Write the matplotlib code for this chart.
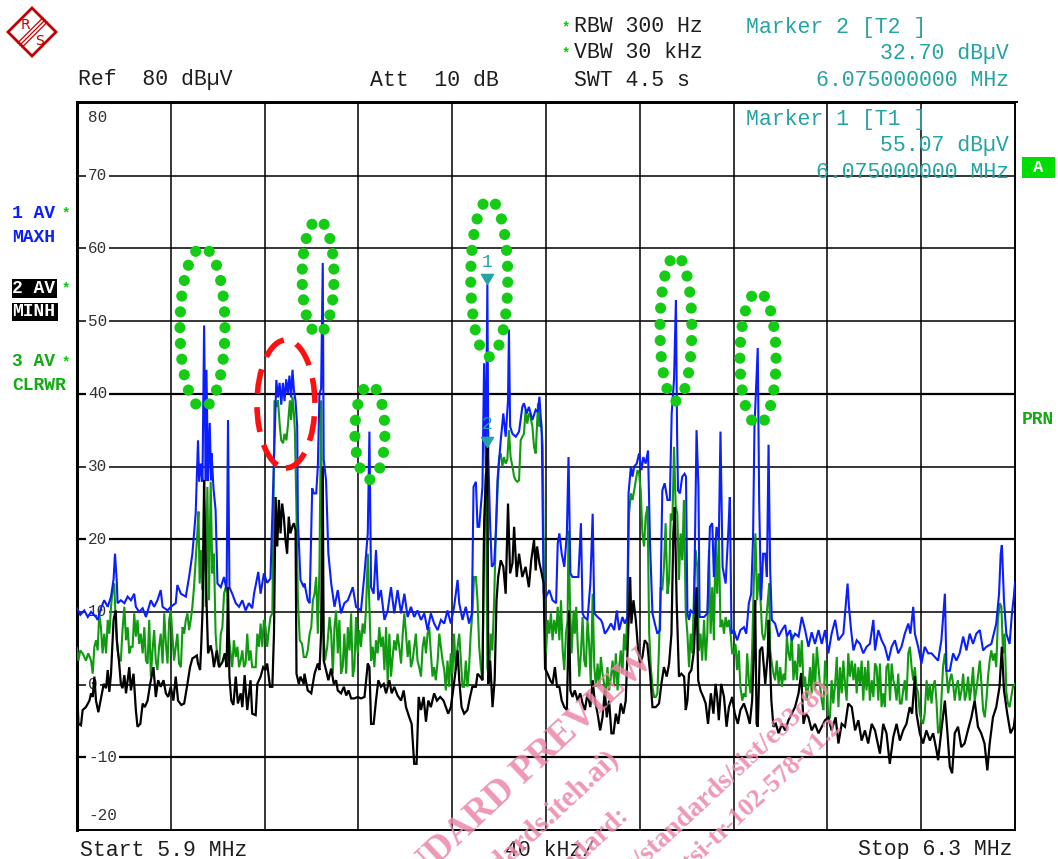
import matplotlib
matplotlib.use("Agg")
import matplotlib.pyplot as plt
import numpy as np
from matplotlib.patches import Rectangle, Polygon, Ellipse
from matplotlib.path import Path

W, H, DPI = 1058, 859, 100

# ---------------- data ----------------
START_MHZ, STOP_MHZ = 5.9, 6.3
REF_LEVEL, BOTTOM_LEVEL = 80, -20
level_ticks = [80, 70, 60, 50, 40, 30, 20, 10, 0, -10, -20]
freq_grid_khz = [40, 80, 120, 160, 200, 240, 280, 320, 360]

# Trace 1: AV MAXH (blue)  -- (offset kHz from start, dBuV)
maxh = [(0, 10.5), (1.4, 9.6), (3.1, 10.2), (4.6, 9.3), (6.0, 10.0), (8.1, 9.3), (8.8, 8.9), (10.2, 10.5),
        (11.6, 11.6), (13.1, 10.7), (14.5, 12.1), (15.6, 14.5), (16.2, 18.0), (17.0, 14.0), (17.3, 11.2),
        (18.7, 11.6), (20.2, 11.2), (21.6, 12.1), (23.0, 11.6), (24.4, 12.5), (25.1, 10.7), (26.5, 10.0),
        (28.0, 10.5), (29.4, 9.3), (31.5, 11.6), (32.9, 10.7), (34.3, 11.6), (35.7, 13.0), (36.5, 10.7),
        (38.6, 10.2), (40.0, 10.7), (42.1, 11.2), (42.8, 13.7), (44.3, 12.5), (46.4, 12.1), (47.8, 14.8),
        (49.2, 18.0), (50.6, 23.5), (51.6, 33.6), (52.1, 27.9), (52.8, 30.4), (53.5, 27.9), (54.2, 49.4),
        (54.9, 28.0), (55.2, 43.3), (55.9, 28.0), (56.6, 36.0), (57.2, 28.1), (57.4, 31.8), (58.2, 27.0),
        (59.1, 24.0), (59.9, 13.9), (61.3, 13.4), (62.7, 14.8), (63.8, 13.0), (64.4, 36.4), (65.0, 13.4),
        (66.2, 12.5), (67.7, 11.2), (69.1, 10.7), (70.5, 11.6), (71.9, 10.2), (73.3, 11.2), (74.7, 10.5),
        (75.5, 12.5), (77.3, 15.5), (78.3, 12.5), (79.7, 15.3), (81.1, 14.0), (82.5, 14.6), (84.0, 30.9),
        (85.0, 41.9), (85.7, 39.5), (86.4, 41.5), (87.1, 38.5), (87.8, 41.5), (88.5, 39.0), (89.2, 42.0),
        (89.9, 40.0), (90.6, 42.5), (91.3, 39.5), (91.9, 43.3), (92.5, 40.5), (93.2, 39.0), (93.9, 35.5),
        (94.2, 22.6), (95.3, 14.4), (96.7, 13.4),
        (97.0, 13.9), (98.4, 11.6), (99.2, 11.2), (100.3, 27.0), (101.0, 26.3), (102.0, 26.3), (102.7, 30.0),
        (103.4, 40.0), (104.1, 40.7), (104.8, 58.0), (105.2, 31.0), (106.2, 28.1), (107.2, 18.0), (108.4, 13.9),
        (109.8, 10.7), (111.2, 13.0), (112.6, 9.8), (114.0, 11.2), (115.5, 11.6), (117.6, 13.4), (119.0, 10.7),
        (121.1, 10.2), (122.6, 15.3), (124.0, 20.8), (124.7, 34.8), (125.4, 13.4), (126.5, 12.5), (127.5, 18.5),
        (128.5, 11.6), (129.6, 13.0), (131.1, 8.9), (132.5, 10.2), (133.9, 13.4), (135.3, 9.8), (136.7, 13.0),
        (138.2, 9.8), (139.6, 12.5), (141.0, 9.3), (142.4, 10.7), (143.8, 9.3), (145.2, 10.2), (146.7, 8.9),
        (148.1, 9.8), (149.5, 7.5), (150.9, 9.8), (152.3, 8.4), (153.8, 7.5), (155.2, 8.9), (156.6, 8.4),
        (158.0, 10.2), (159.4, 8.4), (160.8, 10.7), (162.3, 14.4), (163.0, 11.2), (164.4, 8.9), (165.8, 10.7),
        (167.2, 8.4), (168.4, 9.8), (169.1, 27.2), (170.1, 27.9), (170.8, 21.7), (171.5, 21.7), (172.9, 27.2),
        (173.6, 44.2), (174.3, 30.0), (175.0, 55.07), (175.4, 31.3), (176.2, 21.7), (176.9, 16.2), (177.9, 16.7),
        (178.6, 20.8), (179.3, 28.1), (180.7, 33.6), (181.8, 37.3), (182.8, 34.1), (183.8, 39.1), (184.2, 48.8),
        (184.7, 35.5), (185.7, 34.5), (187.1, 34.1), (188.5, 34.8), (189.9, 38.2), (190.6, 38.7), (191.8, 37.3),
        (192.7, 38.2), (194.2, 36.4), (195.6, 37.8),
        (196.5, 37.5), (197.2, 39.6), (198.2, 34.5), (199.0, 12.5), (200.0, 12.1), (201.4, 13.0), (202.8, 11.6),
        (204.3, 11.2), (205.0, 19.4), (205.7, 20.8), (206.7, 18.0), (207.8, 16.2), (208.9, 20.8), (209.6, 31.3),
        (210.4, 15.3), (211.3, 14.8), (212.8, 14.8), (213.8, 14.8), (214.9, 22.2), (215.6, 9.8), (216.3, 9.3),
        (217.7, 8.9), (218.9, 13.9), (219.9, 23.5), (220.6, 9.8), (222.0, 9.3), (223.4, 8.9), (224.1, 8.4),
        (225.1, 7.0), (226.2, 7.5), (227.7, 8.4), (229.1, 7.5), (230.2, 10.2), (231.2, 7.5), (232.6, 9.3),
        (233.6, 8.4), (234.7, 9.3), (235.2, 26.3), (236.2, 30.0), (236.9, 28.6), (237.6, 30.0), (238.7, 30.4),
        (239.7, 31.8), (240.7, 29.5), (241.5, 31.3), (242.5, 30.4), (243.5, 32.2), (244.4, 19.0), (245.4, 9.8),
        (246.4, 8.4), (247.5, 7.0), (248.6, 7.5), (249.6, 26.7), (250.6, 27.7), (251.8, 25.4), (252.8, 25.4),
        (253.6, 37.3), (254.6, 42.0), (255.4, 52.9), (255.9, 34.5), (256.3, 26.7), (257.1, 26.3), (258.1, 28.6),
        (259.1, 29.0), (259.7, 28.6), (260.3, 9.8), (261.0, 8.9), (261.7, 10.2), (263.1, 9.8), (264.2, 35.0),
        (265.0, 27.2), (265.5, 9.3), (267.4, 9.3), (268.8, 9.8), (269.9, 21.7), (270.9, 22.2), (271.6, 14.8),
        (272.7, 21.7), (273.7, 19.9), (274.4, 34.8), (275.3, 16.2), (276.6, 13.9), (277.7, 20.8), (278.4, 25.8),
        (279.1, 7.0), (280.1, 7.5), (281.5, 6.1), (282.9, 7.5), (284.4, 7.9), (285.4, 7.0), (286.5, 11.2),
        (287.5, 12.5), (288.3, 20.3), (288.9, 35.5), (290.3, 46.3), (290.9, 25.4), (291.7, 11.6), (292.6, 18.0),
        (293.5, 18.0), (294.2, 14.8), (294.9, 33.0), (295.6, 15.7), (296.3, 8.9), (297.7, 8.4), (299.2, 6.6),
        (300.6, 7.5), (302.0, 8.2), (302.7, 6.6), (304.1, 7.5), (304.8, 6.1), (306.2, 7.0), (307.7, 6.6),
        (309.1, 9.3), (310.5, 7.5), (311.9, 5.2), (313.3, 7.2), (314.7, 5.6), (316.2, 7.5), (317.6, 5.6),
        (319.0, 7.5), (320.4, 4.3), (321.8, 7.0), (323.3, 8.9), (324.7, 6.1), (326.8, 7.0), (328.6, 13.9),
        (329.2, 10.7), (330.1, 7.5), (331.1, 4.7), (332.5, 6.1), (333.9, 5.6), (335.3, 4.3), (336.7, 5.2),
        (338.1, 5.6), (339.6, 8.9), (340.3, 4.7), (341.7, 7.5), (343.1, 6.1), (344.5, 5.2), (346.0, 3.3),
        (347.4, 5.2), (348.8, 6.1), (350.2, 4.3), (351.6, 5.2), (353.0, 7.0), (354.5, 8.4), (355.4, 7.0),
        (356.6, 10.7), (357.3, 7.0), (358.7, 5.2), (360.1, 2.9), (361.5, 5.2), (363.0, 4.3), (364.4, 4.3),
        (365.8, 3.8), (367.2, 3.3), (368.6, 6.1), (370.1, 12.5), (370.8, 1.9), (372.2, 1.9), (373.6, 4.3),
        (375.0, 3.3), (376.4, 4.3), (377.9, 6.6), (379.3, 4.7), (380.7, 7.0), (382.1, 5.6), (383.5, 7.0),
        (385.0, 7.5), (386.4, 4.7), (387.8, 5.2), (389.9, 5.6), (392.0, 8.4), (393.2, 12.5), (393.9, 18.0),
        (394.4, 19.2), (395.3, 11.6), (396.3, 7.0), (397.7, 5.6), (398.7, 9.8), (399.5, 12.1), (400.0, 14.0)]

# Trace 2: AV MINH (black)
minh = [(0, 0.1), (0.6, -5.4), (1.7, -5.6), (2.4, -3.5), (3.8, -3.1), (5.3, -2.2), (6.0, -1.2), (6.7, -1.7),
        (7.4, 1.1), (8.1, -2.2), (9.1, -3.8), (10.2, -1.9), (11.4, 0.1), (12.4, -0.5), (13.1, 2.0), (13.8, -1.0),
        (14.5, 1.5), (15.6, 8.9), (16.5, 10.2), (17.0, 6.1), (18.0, 2.9), (18.7, 0.1), (19.4, -0.5), (20.2, 1.3),
        (20.9, -1.2), (22.3, 2.4), (23.0, -0.8), (24.1, 1.5), (25.1, -3.5), (25.8, -5.8), (27.0, -5.4),
        (28.0, -2.6), (28.9, -3.1), (30.1, -2.2), (31.2, 0.1), (32.6, 2.4), (33.6, -1.7), (34.6, 0.6),
        (35.7, -0.3), (36.9, 0.6), (37.9, -1.2), (38.9, -1.7), (40.0, -0.3), (41.1, -2.2), (42.1, 1.1),
        (43.1, -2.2), (44.5, -2.8), (45.7, -2.6), (47.1, 0.1), (48.2, 2.4), (49.2, 3.6), (50.2, 3.8), (51.1, 4.0),
        (51.6, 2.9), (52.5, 2.0), (53.0, 5.6), (53.6, 10.7), (54.2, 28.1), (54.6, 20.8), (55.3, 10.7),
        (55.9, 4.3), (57.0, 5.4), (57.7, 4.3), (58.4, 2.4), (59.6, 4.7), (60.6, 2.4), (62.0, 3.1), (63.0, 4.3),
        (63.8, 2.4), (64.4, 13.4), (65.0, 1.1), (65.8, -2.2), (66.7, -2.8), (67.7, 1.1), (68.6, -2.6),
        (69.8, -1.2), (70.5, -3.1), (71.5, 1.3), (72.6, -3.5), (74.0, 0.6), (74.7, -4.0), (76.2, -4.2),
        (76.9, 0.1), (78.3, 1.1), (79.4, 2.4), (80.4, 2.0), (81.1, 2.9), (82.3, -0.3), (83.3, -0.3), (84.0, 7.0),
        (84.7, 25.8), (85.4, 19.0), (86.1, 25.4), (86.8, 20.8), (87.5, 24.9), (88.2, 23.1), (88.9, 19.9),
        (89.6, 18.0), (90.3, 23.1), (91.0, 20.8), (91.8, 21.7), (92.5, 22.2), (93.2, 21.2), (93.6, 1.5),
        (94.6, 0.1), (95.3, 1.1), (96.7, 0.1),
        (97.0, 1.5), (98.4, -0.8), (99.9, -1.2), (101.3, 1.5), (102.7, 2.9), (103.4, 2.0), (104.1, 7.0),
        (104.8, 30.0), (105.2, 3.3), (106.2, 2.0), (107.2, 0.6), (108.4, 2.2), (109.5, 0.1), (110.5, 0.6),
        (111.2, -0.8), (112.6, -1.2), (113.8, -0.3), (114.8, -1.5), (115.8, -0.8), (116.9, -1.9), (118.3, -1.9),
        (119.7, -1.7), (121.1, -1.9), (122.6, -1.7), (124.0, 2.9), (124.7, 2.4), (125.4, -5.4), (126.5, -5.4),
        (127.5, -2.2), (128.5, 0.6), (129.6, -0.3), (130.8, 0.1), (131.8, -1.2), (133.2, 0.6), (134.2, -1.2),
        (135.3, -0.3), (136.7, -1.5), (138.2, -2.2), (139.3, -0.8), (140.3, -3.1), (141.7, -4.5), (142.7, -5.4),
        (143.8, -10.9), (144.8, -10.9), (145.7, -1.7), (146.7, -3.5), (147.8, -1.7), (148.8, -5.1),
        (149.8, -2.2), (150.9, -3.1), (152.3, -1.2), (153.5, -2.2), (154.9, -1.7), (156.3, -2.2), (157.3, -3.1),
        (158.3, -4.0), (159.4, -3.1), (160.6, -0.3), (161.6, 2.4), (162.3, 4.7), (163.0, 0.6), (164.0, -3.1),
        (165.1, -4.0), (166.5, -3.5), (167.6, -1.7), (168.6, -0.3), (170.1, -0.3), (170.8, 1.5), (171.9, 1.1),
        (172.9, 0.6), (173.6, 21.7), (174.3, 28.0), (175.0, 32.7), (175.4, 0.1), (176.2, 3.3), (177.2, -3.1),
        (178.1, 0.6), (178.9, 11.6), (179.6, 14.8), (180.7, 17.1), (181.8, 16.2), (182.8, 12.5), (183.8, 24.9),
        (184.7, 15.3), (185.7, 16.7), (186.4, 21.7), (187.5, 14.8), (188.5, 18.0), (189.9, 14.8), (191.3, 16.2),
        (192.7, 13.4), (193.7, 17.1), (194.9, 19.9), (195.6, 15.7),
        (196.2, 19.0), (197.2, 16.7), (197.9, 15.7), (199.0, 13.9), (199.6, 2.2), (200.7, 1.5), (201.8, 0.6),
        (202.8, 0.1), (203.8, 2.4), (204.7, -0.3), (205.7, -0.3), (206.7, -2.2), (207.8, -3.1), (208.9, -3.5),
        (209.8, 10.2), (210.4, -0.8), (211.3, -1.7), (212.3, -0.8), (213.5, -2.2), (214.6, -1.2), (215.6, -2.6),
        (216.6, -3.5), (217.7, -1.2), (218.9, -3.1), (219.9, 0.6), (220.6, -1.7), (222.0, -4.0), (223.1, -6.3),
        (224.1, -4.5), (225.1, -0.8), (225.9, -4.5), (226.9, -2.2), (227.9, -6.7), (228.8, -6.7), (229.8, -4.0),
        (230.8, -5.4), (231.9, -2.6), (233.0, -4.0), (234.0, -2.2), (235.0, 6.6), (235.9, 14.8), (236.4, 8.4),
        (237.3, 11.6), (238.3, 8.9), (239.3, 4.7), (240.1, 2.9), (241.1, 3.8), (242.1, 6.1), (243.2, 5.6),
        (244.4, 1.5), (245.4, -3.1), (246.8, -3.1), (248.2, -2.6), (249.2, 0.1), (250.3, 2.4), (251.5, 1.1),
        (252.5, 2.9), (253.5, 7.0), (254.3, 20.8), (254.9, 24.4), (255.7, 11.6), (256.7, 1.1), (257.7, 1.5),
        (258.9, 1.1), (259.6, -3.5), (260.3, -2.2), (261.0, 1.5), (262.0, 2.0), (263.1, 4.7), (264.2, 13.4),
        (264.9, 0.6), (265.9, -0.8), (267.1, -1.7), (268.1, -2.6), (269.1, -5.4), (270.3, -1.2), (271.4, -4.0),
        (272.3, 0.1), (273.0, -1.7), (273.7, -4.9), (274.7, 0.1), (275.9, -1.7), (277.0, -5.8), (278.0, -3.1),
        (279.4, -1.7), (280.5, -4.0), (281.8, -5.4), (282.9, -3.5), (284.4, -2.6), (285.8, -4.0), (286.9, -5.4),
        (287.9, -2.2), (288.6, 4.3), (289.2, 11.6), (289.8, -5.4), (290.3, -5.8), (291.2, 4.7), (292.2, 5.2),
        (293.5, 0.1), (294.6, 4.3), (294.9, 8.9), (296.1, -2.2), (297.0, -5.8), (298.0, -5.4), (299.2, -6.7),
        (300.6, -5.4), (302.0, -6.3), (303.4, -4.9), (304.8, -4.0), (306.2, -3.1), (307.7, -1.2), (308.8, 1.6),
        (309.8, -5.4), (310.8, -4.0), (311.9, -4.5), (313.3, -6.3), (314.7, -5.4), (316.2, -6.7), (317.6, -5.8),
        (319.0, -4.9), (320.4, -4.5), (321.8, -6.3), (323.5, -4.5), (324.7, -8.1), (326.1, -5.4), (327.5, -5.8),
        (328.9, -2.6), (330.4, -3.1), (331.8, -6.3), (333.2, -4.9), (334.6, -7.7), (336.0, -6.3), (337.4, -8.1),
        (338.9, -5.4), (340.3, -6.3), (342.4, -9.5), (343.8, -5.4), (345.2, -6.7), (346.6, -10.9), (348.1, -7.2),
        (349.5, -5.4), (350.9, -7.7), (352.3, -6.3), (353.7, -5.4), (355.1, -3.1), (356.1, -4.0), (357.3, 1.2),
        (358.0, -4.0), (359.4, -6.7), (360.8, -8.1), (362.2, -6.3), (363.7, -7.7), (365.1, -6.7), (366.5, -9.0),
        (367.2, -10.4), (368.6, -6.3), (370.1, -2.2), (371.2, -6.7), (372.2, -11.3), (373.2, -12.2),
        (374.3, -6.7), (375.7, -5.8), (377.1, -8.6), (378.5, -8.1), (379.9, -6.3), (381.4, -4.5), (382.8, -2.2),
        (384.2, -5.8), (385.6, -6.7), (387.0, -8.1), (388.2, -11.8), (389.2, -8.1), (390.6, -4.5), (392.0, -3.1),
        (393.4, -0.3), (394.4, 5.2), (395.3, -0.8), (396.7, -4.0), (398.1, -6.7), (399.5, -5.8), (400.0, -4.5)]

# Trace 3: AV CLRWR (green)
clrwr = [(0, 5.0), (0.6, 3.3), (1.4, 4.7), (2.4, 4.3), (3.8, 3.3), (4.8, 4.3), (6.0, 3.3), (6.7, 1.5),
         (7.4, 5.2), (8.1, 6.1), (8.8, 4.7), (9.5, 9.8), (10.2, 7.9), (10.9, 4.3), (11.6, 7.0), (12.4, 4.3),
         (13.1, 8.9), (13.8, 7.0), (14.5, 10.7), (15.2, 13.0), (15.9, 13.9), (16.6, 7.9), (17.3, 4.7),
         (18.0, 3.3), (18.7, 3.3), (19.4, 7.5), (20.2, 10.7), (20.9, 6.1), (21.6, 7.9), (22.3, 4.3), (23.0, 5.2),
         (23.7, 5.2), (24.4, 9.8), (25.1, 6.6), (25.8, 8.9), (26.5, 5.6), (27.2, 7.0), (28.0, 4.3), (28.7, 7.9),
         (29.4, 3.3), (30.1, 2.9), (30.8, 8.9), (31.5, 1.1), (32.2, 4.7), (32.9, 7.5), (33.6, 3.3), (34.3, 2.0),
         (35.0, 5.2), (35.7, 7.0), (36.5, 2.9), (37.2, 9.8), (37.9, 5.6), (38.6, 2.9), (39.3, 8.9), (40.0, 10.2),
         (40.7, 6.6), (41.4, 3.3), (42.1, 5.2), (42.8, 7.0), (43.5, 2.9), (44.3, 2.4), (45.0, 7.9), (45.7, 7.0),
         (46.4, 8.9), (47.1, 9.8), (47.8, 7.5), (48.5, 8.9), (49.2, 10.7), (49.9, 13.4), (50.6, 17.1),
         (51.3, 20.8), (51.8, 23.8), (52.3, 13.9), (53.0, 18.5), (53.6, 13.0), (54.2, 25.4), (54.9, 10.7),
         (55.6, 27.2), (56.3, 11.6), (57.0, 27.9), (57.7, 15.3), (58.4, 18.0), (59.1, 7.0), (59.9, 3.3),
         (60.6, 2.4), (61.3, 7.0), (62.0, 7.9), (62.7, 12.5), (63.4, 13.4), (64.1, 12.5), (64.8, 6.6),
         (65.5, 4.3), (66.2, 2.4), (66.9, 6.1), (67.7, 3.8), (68.4, 5.2), (69.1, 2.4), (69.8, 3.3), (70.5, 4.7),
         (71.2, 2.4), (71.9, 2.9), (72.6, 7.0), (73.3, 3.3), (74.0, 4.7), (74.7, 2.4), (75.5, 2.4), (76.2, 2.4),
         (76.9, 7.0), (77.6, 5.2), (78.3, 8.4), (79.0, 5.2), (79.7, 8.9), (80.4, 7.9), (81.1, 5.2), (81.8, 7.5),
         (82.5, 9.3), (83.3, 9.8), (83.7, 20.8), (84.2, 39.1), (85.1, 38.2), (85.7, 39.1), (86.5, 35.5),
         (87.1, 33.6), (87.9, 33.2), (88.5, 34.5), (89.3, 33.6), (89.9, 35.5), (90.8, 39.1), (91.3, 36.4),
         (91.9, 39.6), (92.5, 37.3), (92.9, 35.0), (93.5, 25.4), (94.2, 11.6), (95.0, 6.1), (96.0, 5.6),
         (96.7, 3.8),
         (97.7, 3.8), (98.4, 4.7), (99.2, 7.0), (99.9, 7.9), (100.6, 11.6), (101.3, 12.5), (102.0, 14.8),
         (102.7, 7.0), (103.4, 16.2), (104.1, 39.1), (104.5, 20.8), (105.1, 7.0), (105.8, 3.3), (106.7, 5.2),
         (107.7, 9.3), (108.4, 7.0), (109.1, 1.5), (109.8, 7.9), (110.5, 10.2), (111.2, 4.3), (111.9, 8.9),
         (112.6, 1.5), (113.3, 2.4), (114.0, 7.0), (114.8, 1.5), (115.5, 7.9), (116.2, 4.7), (116.9, 9.8),
         (117.6, 1.1), (118.3, 2.4), (119.0, 9.3), (119.7, 4.3), (120.4, 7.5), (121.1, 5.2), (121.8, 8.4),
         (122.6, 7.0), (123.3, 10.7), (124.0, 18.0), (124.7, 10.7), (125.4, 3.3), (126.1, 5.2), (126.8, 2.4),
         (127.5, 6.1), (128.2, 4.3), (128.9, 7.9), (129.6, 5.2), (130.4, 6.6), (131.1, 2.0), (131.8, 7.9),
         (132.5, 0.1), (133.2, 7.0), (133.9, 1.1), (134.6, 3.8), (135.3, 6.1), (136.0, 4.7), (136.7, 7.0),
         (137.4, 5.2), (138.2, 2.9), (138.9, 7.0), (139.6, 9.8), (140.3, 7.0), (141.0, 3.8), (141.7, 6.1),
         (142.4, 2.4), (143.1, 3.3), (143.8, 5.2), (144.5, 7.0), (145.2, 3.3), (145.9, 2.4), (146.7, 1.1),
         (147.4, 5.2), (148.1, 6.6), (148.8, 4.3), (149.5, 7.0), (150.2, 7.9), (150.9, 4.3), (151.6, 1.1),
         (152.3, 2.4), (153.0, 0.6), (153.8, 3.3), (154.5, 7.0), (155.2, 5.2), (155.9, 3.3), (156.6, 2.0),
         (157.3, -0.8), (158.0, 3.3), (158.7, -0.3), (159.4, 4.3), (160.1, 1.5), (160.8, 7.0), (161.5, 2.0),
         (162.3, 5.2), (163.0, 7.0), (163.7, 3.3), (164.4, -0.3), (165.1, -0.3), (165.8, 3.3), (166.5, -0.3),
         (167.2, 2.4), (167.9, 7.0), (168.6, 9.8), (169.3, 14.8), (170.1, 14.8), (170.8, 11.6), (171.5, 5.2),
         (172.2, 2.4), (172.9, 0.6), (173.6, 21.2), (174.3, 29.0), (175.0, 2.4), (175.7, 0.6), (176.4, 7.0),
         (177.1, 4.7), (177.9, 11.6), (178.6, 20.8), (179.3, 26.3), (180.0, 31.3), (180.7, 31.8), (181.4, 30.0),
         (182.1, 31.3), (182.8, 30.4), (183.5, 30.9), (184.2, 35.0), (184.9, 31.3), (185.7, 30.0), (186.4, 28.6),
         (187.1, 28.1), (187.8, 27.9), (188.5, 28.1), (189.2, 33.6), (189.9, 34.1), (190.6, 34.5), (191.3, 37.8),
         (192.0, 35.9), (192.7, 37.3), (193.4, 36.8), (194.2, 35.5), (194.9, 32.7), (195.6, 31.8),
         (196.3, 36.8), (196.6, 38.7), (197.2, 35.5), (197.9, 36.4), (198.6, 32.7), (199.3, 9.8), (200.0, 4.3),
         (200.7, 8.9), (201.4, 7.0), (202.1, 9.8), (202.8, 6.1), (203.5, 8.9), (204.3, 7.0), (205.0, 10.7),
         (205.7, 6.1), (206.4, 11.6), (207.1, 4.7), (207.8, 2.0), (208.5, 7.0), (209.2, 8.9), (209.6, 21.2),
         (210.2, 11.6), (210.9, 4.3), (211.8, 10.2), (212.3, 7.0), (212.9, 10.7), (213.5, 5.6), (214.2, 1.1),
         (214.9, 4.3), (215.6, 9.3), (216.3, 3.3), (217.0, 2.4), (217.7, 8.9), (218.4, 5.6), (219.1, 0.1),
         (219.9, 12.5), (220.6, 2.4), (221.3, -0.3), (222.0, 2.9), (222.7, -0.3), (223.4, 3.8), (224.1, 1.5),
         (224.8, 0.1), (225.5, -1.7), (226.2, 2.4), (226.9, -0.8), (227.7, 1.1), (228.4, 3.3), (229.1, 0.1),
         (229.8, 4.3), (230.5, -0.8), (231.2, 2.4), (231.9, 4.7), (232.6, 1.5), (233.3, 7.0), (234.0, 4.7),
         (234.7, 9.8), (235.4, 23.5), (236.2, 26.3), (236.9, 25.4), (237.6, 26.7), (238.3, 28.1), (239.0, 29.5),
         (239.7, 29.0), (240.4, 26.7), (241.1, 20.8), (241.8, 19.0), (242.5, 23.1), (243.3, 24.5), (244.0, 7.0),
         (244.7, 2.4), (245.4, -0.3), (246.1, -1.7), (246.8, -1.7), (247.5, -1.2), (248.2, 5.2), (248.9, 13.4),
         (249.6, 13.0), (250.3, 16.2), (251.0, 22.2), (251.8, 12.5), (252.5, 14.4), (253.2, 23.5), (253.9, 22.6),
         (254.6, 32.7), (255.3, 24.5), (256.0, 23.5), (256.7, 14.4), (257.4, 20.8), (258.1, 17.1), (258.8, 25.4),
         (259.6, 9.8), (260.3, 7.0), (261.0, 2.4), (261.7, 7.0), (262.4, 4.3), (263.1, 12.5), (263.8, 18.5),
         (264.5, 16.2), (265.2, 4.7), (265.9, 7.0), (266.6, 3.3), (267.4, 8.9), (268.1, 3.3), (268.8, 7.0),
         (269.5, 18.5), (270.2, 7.0), (270.9, 13.4), (271.6, 6.1), (272.3, 19.9), (273.0, 12.5), (273.7, 20.8),
         (274.4, 7.9), (275.2, 8.9), (275.9, 7.0), (276.6, 9.3), (277.3, 7.9), (278.0, 8.9), (278.7, 7.0),
         (279.4, 4.3), (280.1, 4.3), (280.8, 5.6), (281.5, 2.0), (282.2, 4.7), (282.9, -0.3), (283.7, -2.2),
         (284.4, -1.2), (285.1, -1.7), (285.8, 4.3), (286.5, 0.6), (287.2, -1.2), (287.9, 4.7), (288.6, 13.9),
         (289.3, 20.8), (290.0, 11.6), (290.8, 15.3), (291.5, 11.6), (292.2, 7.0), (292.9, 6.1),
         (293.5, 7.0), (294.6, 11.6), (295.2, 13.9), (295.6, 4.7), (296.3, 2.9), (297.0, 1.5), (297.7, 0.6),
         (298.4, 3.3), (299.2, 0.1), (299.9, 2.4), (300.6, -0.3), (301.3, 1.5), (302.0, 0.6), (302.7, 6.6),
         (303.4, 4.3), (304.1, 3.3), (304.8, 7.0), (305.5, 0.6), (306.2, 3.3), (307.0, 0.6), (307.7, 5.6),
         (308.4, 2.4), (309.1, 6.1), (309.8, -0.3), (310.5, 1.1), (311.2, -2.2), (311.9, -0.3), (312.6, 2.4),
         (313.3, -1.2), (314.0, 4.3), (314.7, -0.8), (315.5, 5.2), (316.2, 2.4), (316.9, -0.3), (317.6, -2.2),
         (318.3, -3.5), (319.0, 3.3), (319.7, 1.1), (320.4, -4.9), (321.1, -4.5), (321.8, 0.6), (322.5, -2.6),
         (323.3, 0.1), (324.0, 3.8), (324.7, -3.1), (325.4, 2.4), (326.1, -1.2), (326.8, 3.3), (327.5, 0.1),
         (328.2, -2.2), (328.9, 4.3), (329.6, 1.1), (330.4, 3.3), (331.1, 0.6), (331.8, 2.9), (332.5, -1.2),
         (333.2, 2.4), (333.9, 0.1), (334.6, 3.3), (335.3, -2.2), (336.0, 2.4), (336.7, -0.8), (337.4, 3.3),
         (338.1, -2.2), (338.9, 0.6), (339.6, -1.7), (340.3, 2.9), (341.0, 2.4), (341.7, -2.2), (342.4, 2.9),
         (343.1, -3.1), (343.8, -1.2), (344.5, -3.1), (345.2, 2.4), (346.0, 2.9), (346.7, -2.2), (347.4, 2.9),
         (348.1, 0.6), (348.8, -0.3), (349.5, -2.2), (350.2, 1.5), (350.9, -2.6), (351.6, -2.6), (352.3, -0.8),
         (353.0, 0.6), (353.7, -2.2), (354.5, 4.3), (355.2, 5.2), (355.9, 2.4), (356.6, 0.6), (357.3, 2.4),
         (358.0, -0.3), (358.7, -1.2), (359.4, -4.0), (360.1, -4.9), (360.8, -5.4), (361.5, -4.0), (362.3, 0.6),
         (363.0, -2.2), (363.7, 0.1), (364.4, -2.6), (365.1, -0.3), (365.8, 0.6), (366.5, -2.2), (367.2, -6.7),
         (367.9, -6.3), (368.6, -2.2), (369.3, 2.4), (370.1, 4.3), (370.8, 1.5), (371.5, -1.2), (372.2, 0.6),
         (372.9, 1.5), (373.6, 0.1), (374.3, -2.2), (375.0, -0.3), (375.7, 0.6), (376.4, -2.2), (377.2, -0.8),
         (377.9, 1.5), (378.6, -2.2), (379.3, -1.2), (380.0, 1.1), (380.7, -2.2), (381.4, -0.3), (382.1, 2.4),
         (382.8, -2.2), (383.5, -0.8), (384.2, 1.1), (385.0, 3.3), (385.7, 0.1), (386.4, -3.5), (387.1, -4.5),
         (387.8, -2.2), (388.5, 1.1), (389.2, 3.3), (389.9, 4.7), (390.6, 3.3), (391.3, 4.3), (392.0, 2.4),
         (392.7, 8.9), (393.5, 11.2), (394.2, 10.7), (394.9, 4.3), (395.6, 7.0), (396.3, -1.0), (397.0, -2.6),
         (397.7, -3.1), (398.4, -1.7), (399.1, -0.3), (400.0, 0.1)]

marker_freq_mhz = [6.075, 6.075]
marker_level = [55.07, 32.70]
marker_names = ["1", "2"]

# ---------------- styles ----------------
C_TEXT = "#1e1e1e"
C_TEAL = "#23a3a3"
C_STAR = "#00d000"
C_BLUE = "#0a1eff"
C_GREEN = "#0f9a0f"
C_LGREEN = "#11aa11"
C_DOT = "#14cc14"
C_RED = "#ff1010"
C_LOGO = "#c40000"
C_WM = "#ec86a6"
MONO = "Liberation Mono"

fig = plt.figure(figsize=(W / DPI, H / DPI), dpi=DPI)
fig.patch.set_facecolor("white")

X0, X1, Y0, Y1 = 77, 1015, 103, 830
ax = fig.add_axes([X0 / W, (H - Y1) / H, (X1 - X0) / W, (Y1 - Y0) / H])
ax.set_xlim(START_MHZ, STOP_MHZ)
ax.set_ylim(BOTTOM_LEVEL, REF_LEVEL)
ax.set_xticks([])
ax.set_yticks([])
for s in ax.spines.values():
    s.set_linewidth(1.4)
    s.set_color("black")
ax.spines["left"].set_linewidth(2.2)

# pixel scale of the data axes (for evenly spaced annotation dots)
PX_PER_KHZ = (X1 - X0) / ((STOP_MHZ - START_MHZ) * 1000.0)
PX_PER_DB = (Y1 - Y0) / float(REF_LEVEL - BOTTOM_LEVEL)

# grid
for v in level_ticks[1:-1]:
    lw = 1.6 if v in (40, 20, -10) else 1.1
    ax.axhline(v, color="black", lw=lw, zorder=1)
for k in freq_grid_khz:
    ax.axvline(START_MHZ + k / 1000.0, color="black", lw=1.1, zorder=1)

# level labels inside the grid
for v in level_ticks:
    if v == REF_LEVEL:
        xy_off, va = (8, -5), "top"
    elif v == BOTTOM_LEVEL:
        xy_off, va = (8, 5), "bottom"
    else:
        xy_off, va = (8, 0), "center"
    ax.annotate(str(v), xy=(START_MHZ, v), xytext=xy_off, textcoords="offset points",
                ha="left", va=va, fontsize=11.5, family=MONO, color="#333333", zorder=2,
                bbox=dict(boxstyle="square,pad=0.12", fc="white", ec="none"))


def unpack(pairs):
    f = np.array([START_MHZ + p[0] / 1000.0 for p in pairs])
    v = np.array([p[1] for p in pairs])
    return f, v


f3, v3 = unpack(clrwr)
f1, v1 = unpack(maxh)
f2, v2 = unpack(minh)
ax.plot(f3, v3, color=C_GREEN, lw=1.5, zorder=3, solid_joinstyle="miter")
ax.plot(f1, v1, color=C_BLUE, lw=1.5, zorder=4, solid_joinstyle="miter")
ax.plot(f2, v2, color="black", lw=1.6, zorder=5, solid_joinstyle="miter")

# markers (tip of triangle at the marker level)
tri = Path([(-0.6, 1.0), (0.6, 1.0), (0.0, 0.0), (-0.6, 1.0)],
           [Path.MOVETO, Path.LINETO, Path.LINETO, Path.CLOSEPOLY])
for f, lv, nm in zip(marker_freq_mhz, marker_level, marker_names):
    ax.plot([f], [lv], marker=tri, ms=14.5, color=C_TEAL, mec=C_TEAL, ls="none", zorder=7)
    ax.annotate(nm, xy=(f, lv), xytext=(0, 16), textcoords="offset points", ha="center",
                va="center", fontsize=13, family=MONO, color=C_TEAL, zorder=7)

# annotation: dotted green loops around emission peaks (kHz, dB, half-w kHz, half-h dB, dots)
loops = [(53.5, 49.1, 9.6, 11.0, 22), (102.8, 56.1, 6.8, 7.8, 16), (124.9, 34.7, 6.4, 6.5, 13),
         (175.8, 55.9, 7.9, 10.8, 21), (255.4, 49.0, 6.8, 10.0, 19), (290.4, 44.9, 7.7, 9.1, 18)]
for ck, cv, hw, hh, n in loops:
    tt = np.linspace(np.pi / 2, np.pi / 2 + 2 * np.pi, 4001)
    xs = hw * PX_PER_KHZ * np.cos(tt)
    ys = hh * PX_PER_DB * np.sin(tt)
    arc = np.concatenate([[0.0], np.cumsum(np.hypot(np.diff(xs), np.diff(ys)))])
    targets = (np.arange(n) + 0.5) * arc[-1] / n
    tk = np.interp(targets, arc, tt)
    ax.scatter(START_MHZ + (ck + hw * np.cos(tk)) / 1000.0, cv + hh * np.sin(tk), s=64,
               color=C_DOT, edgecolors="none", zorder=8, clip_on=False)

# annotation: red dashed loop
ax.add_patch(Ellipse((START_MHZ + 89.1 / 1000.0, 38.6), 24.7 / 1000.0, 17.6, fill=False,
                     ec=C_RED, lw=4.0, ls=(0, (4.5, 2.4)), zorder=9))

# ---------------- overlay in pixel coordinates ----------------
ov = fig.add_axes([0, 0, 1, 1])
ov.set_xlim(0, W)
ov.set_ylim(H, 0)
ov.axis("off")


def T(x, y, s, color=C_TEXT, size=15.5, ha="left", weight="normal", **kw):
    ov.text(x, y, s, color=color, fontsize=size, ha=ha, va="center", family=MONO,
            fontweight=weight, **kw)


# header
T(566, 27, "*", color=C_STAR, size=10, ha="center", weight="bold")
T(574, 27, "RBW 300 Hz")
T(566, 53, "*", color=C_STAR, size=10, ha="center", weight="bold")
T(574, 53, "VBW 30 kHz")
T(574, 80, "SWT 4.5 s")
T(78, 80, "Ref  80 dB\u00b5V")
T(370, 80, "Att  10 dB")
T(746, 27, "Marker 2 [T2 ]", color=C_TEAL)
T(1009, 53, "32.70 dB\u00b5V", color=C_TEAL, ha="right")
T(1009, 80, "6.075000000 MHz", color=C_TEAL, ha="right")
T(746, 119, "Marker 1 [T1 ]", color=C_TEAL)
T(1009, 146, "55.07 dB\u00b5V", color=C_TEAL, ha="right")
T(1009, 172, "6.075000000 MHz", color=C_TEAL, ha="right")

# footer
T(80, 850, "Start 5.9 MHz")
T(505, 850, "40 kHz/")
T(1013, 850, "Stop 6.3 MHz", ha="right")

# right side
ov.add_patch(Rectangle((1022, 157), 33, 21, fc="#00dd00", ec="none"))
T(1038.5, 167.5, "A", color="white", size=12.5, ha="center", weight="bold")
T(1022, 420, "PRN", color=C_LGREEN, size=13, weight="bold")

# left trace labels
T(12, 213, "1 AV", color=C_BLUE, size=13, weight="bold")
T(66, 213, "*", color=C_STAR, size=10, ha="center", weight="bold")
T(12, 237, "MAXH", color=C_BLUE, size=13, weight="bold")
ov.add_patch(Rectangle((12, 279), 45, 19, fc="black", ec="none"))
T(12, 288.5, "2 AV", color="white", size=13, weight="bold")
T(66, 288, "*", color=C_STAR, size=10, ha="center", weight="bold")
ov.add_patch(Rectangle((12, 303), 46, 18, fc="black", ec="none"))
T(12, 312, "MINH", color="white", size=13, weight="bold")
T(12, 362, "3 AV", color=C_LGREEN, size=13, weight="bold")
T(66, 362, "*", color=C_STAR, size=10, ha="center", weight="bold")
T(12, 386, "CLRWR", color=C_LGREEN, size=13, weight="bold")

# top border of the screen frame
ov.plot([X0, 1017], [102, 102], color="black", lw=1.4)

# R&S logo
ov.add_patch(Polygon([(32, 8), (56, 32), (32, 56), (8, 32)], closed=True, fill=False,
                     ec=C_LOGO, lw=2.0))
for d in (-2.2, 0, 2.2):
    ov.plot([45 + d, 20 + d], [20 + d, 45 + d], color=C_LOGO, lw=0.9)
ov.text(25, 25, "R", color=C_LOGO, fontsize=10, ha="center", va="center", family="DejaVu Sans")
ov.text(39.5, 41, "S", color=C_LOGO, fontsize=10, ha="center", va="center", family="DejaVu Sans")

# watermark
wm = [("iTeh STANDARD PREVIEW", 655, 662, 27),
      ("(standards.iteh.ai)", 620, 760, 21),
      ("Full standard:", 630, 818, 20),
      ("https://standards.iteh.ai/catalog/standards/sist/e33c80", 832, 690, 20),
      ("ai/catalog/standards/etsi-tr-102-578-v1.2", 842, 728, 19)]
for s, x, y, fs in wm:
    ov.text(x, y, s, color=C_WM, fontsize=fs, ha="right", va="baseline", rotation=43,
            rotation_mode="anchor", family="Liberation Serif", fontweight="bold", alpha=0.85,
            zorder=20)

fig.savefig("out.png", dpi=DPI)
